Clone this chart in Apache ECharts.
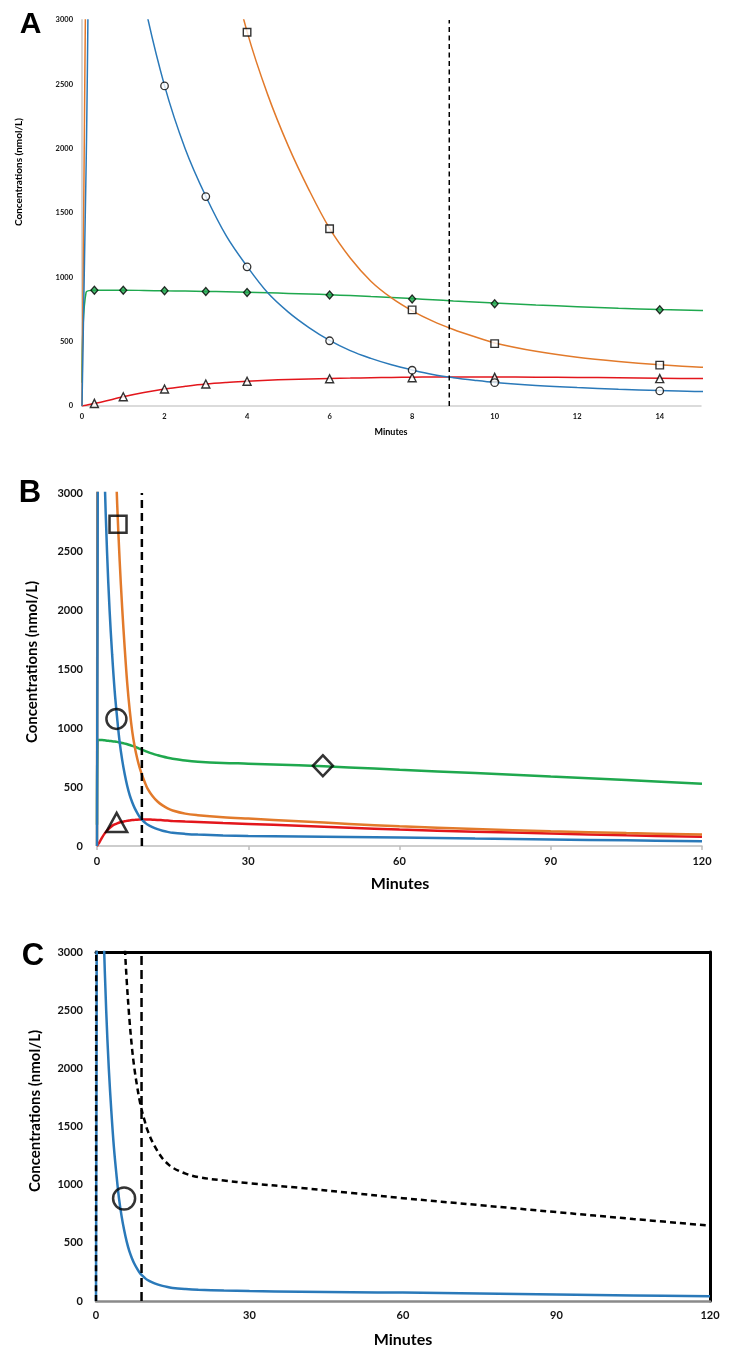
<!DOCTYPE html>
<html>
<head>
<meta charset="utf-8">
<script src="https://cdn.jsdelivr.net/npm/echarts@6/dist/echarts.min.js"></script>
<style>html,body{margin:0;padding:0;background:#fff}#main{width:741px;height:1363px}</style>
</head>
<body>
<div id="main"></div>
<script>
// ---- Data ----
const minutes = [0, 0.1, 0.3, 0.5, 1, 1.5, 2, 2.5, 3, 3.5, 4, 4.5, 5, 5.5, 6, 6.5, 7, 7.5, 8, 8.5, 9, 9.5, 10, 11, 12, 13, 14, 15, 17.5, 20, 25, 30, 40, 50, 60, 75, 90, 105, 120];
const blueConc   = [0, 1870, 5600, 5100, 4000, 3150, 2490, 2000, 1630, 1320, 1085, 880, 730, 610, 510, 430, 370, 320, 280, 245, 220, 200, 183, 160, 143, 130, 120, 112, 103, 97, 90, 85, 80, 76, 72, 64, 56, 48, 40];
const orangeConc = [0, 3700, 11000, 10500, 9000, 7600, 6300, 5200, 4300, 3550, 2910, 2420, 2020, 1680, 1380, 1150, 970, 840, 740, 660, 595, 540, 490, 425, 378, 345, 320, 302, 275, 262, 245, 233, 210, 188, 167, 145, 125, 110, 97];
const greenConc  = [180, 885, 900, 900, 900, 898, 895, 893, 890, 888, 885, 880, 875, 870, 865, 858, 851, 844, 835, 826, 817, 809, 800, 785, 772, 760, 750, 742, 727, 717, 706, 700, 686, 668, 648, 620, 590, 560, 530];
const redConc    = [0, 5, 20, 33, 72, 105, 132, 153, 171, 183, 192, 200, 206, 210, 214, 217, 220, 222, 224, 225, 226, 226, 226, 224, 222, 219, 216, 213, 208, 204, 195, 188, 172, 155, 140, 122, 106, 91, 78];
const totalConc  = [0, 6450, 17500, 16500, 13900, 11650, 9685, 8100, 6820, 5760, 4880, 4180, 3620, 3160, 2755, 2440, 2190, 2000, 1855, 1730, 1630, 1550, 1475, 1370, 1290, 1225, 1180, 1145, 1095, 1065, 1035, 1012, 972, 928, 884, 824, 764, 705, 648];

// observed points, panel A
const blueObsT   = [2, 3, 4, 6, 8, 10, 14];
const blueObs    = [2488, 1628, 1082, 507, 278, 181, 117];
const orangeObsT = [4, 6, 8, 10, 14];
const orangeObs  = [2905, 1378, 747, 485, 318];
const greenObsT  = [0.3, 1, 2, 3, 4, 6, 8, 10, 14];
const greenObs   = [900, 900, 895, 890, 882, 862, 832, 795, 748];
const redObsT    = [0.3, 1, 2, 3, 4, 6, 8, 10, 14];
const redObs     = [20, 72, 132, 171, 192, 212, 220, 222, 213];

// key markers, panels B and C
const keyB = { square: [4.17, 2734], circle: [3.85, 1080], triangle: [3.9, 200], diamond: [44.8, 682] };
const keyC = { circle: [5.49, 881] };

const cutoffMinute = 8.9;
const yMax = 3000;
const xTicksA = [0, 2, 4, 6, 8, 10, 12, 14];
const xTicksBC = [0, 30, 60, 90, 120];
const yTicks = [0, 500, 1000, 1500, 2000, 2500, 3000];

const panelLetters = ['A', 'B', 'C'];
const yTitle = 'Concentrations (nmol/L)';
const xTitle = 'Minutes';

// ---- Styling ----
const FONT = 'Lato, "Open Sans", sans-serif';
const BLUE = '#2a79b9', ORANGE = '#e27a2b', GREEN = '#1fa84e', RED = '#e3161c';

const pairs = (xs, ys) => xs.map((x, i) => [x, ys[i]]);

function curve(name, ys, color, width, idx, extra) {
  return Object.assign({
    name, type: 'line', xAxisIndex: idx, yAxisIndex: idx,
    data: pairs(minutes, ys), showSymbol: false, smooth: 0.35,
    lineStyle: { color, width }, clip: true, z: 2, silent: true
  }, extra || {});
}
function vline(idx, width, dash) {
  return { type: 'line', xAxisIndex: idx, yAxisIndex: idx, data: [[cutoffMinute, 0], [cutoffMinute, yMax]],
    showSymbol: false, lineStyle: { color: '#000', width, type: dash }, z: 3, silent: true };
}
function scat(xs, ys, symbol, size, idx, fill, bw) {
  return { type: 'scatter', xAxisIndex: idx, yAxisIndex: idx, data: pairs(xs, ys), symbol, symbolSize: size,
    itemStyle: { color: fill, borderColor: '#000', borderWidth: bw }, z: 5, silent: true };
}
function xAxisDef(grid, max, ticks, fs, margin, lineColor, lineW, showTick) {
  return { type: 'value', gridIndex: grid, min: 0, max, interval: ticks[1] - ticks[0],
    splitLine: { show: false },
    axisLine: { show: true, onZero: false, lineStyle: { color: lineColor, width: lineW } },
    axisTick: { show: showTick, length: 4, lineStyle: { color: lineColor, width: 1.5 } },
    axisLabel: { show: true, margin, fontFamily: FONT, fontWeight: 'bold', fontSize: fs, color: '#111',
      formatter: v => ticks.indexOf(v) >= 0 ? String(v) : '' } };
}
function yAxisDef(grid, fs, margin, lineColor, lineW) {
  return { type: 'value', gridIndex: grid, min: 0, max: yMax, interval: 500,
    splitLine: { show: false },
    axisLine: { show: true, onZero: false, lineStyle: { color: lineColor, width: lineW } },
    axisTick: { show: false },
    axisLabel: { margin, fontFamily: FONT, fontWeight: 'bold', fontSize: fs, color: '#111',
      formatter: v => yTicks.indexOf(v) >= 0 ? String(v) : '' } };
}
function txt(t, x, y, fs, rot, family) {
  return { type: 'text', x, y, rotation: rot || 0, silent: true,
    style: { text: t, fill: '#000', font: 'bold ' + fs + 'px ' + (family || FONT), textAlign: 'center', textVerticalAlign: 'middle' } };
}

const option = {
  animation: false,
  backgroundColor: '#fff',
  grid: [
    { left: 82, right: 40, top: 20, bottom: 957 },
    { left: 97, right: 39, top: 493, bottom: 517 },
    { left: 96, right: 31, top: 952, bottom: 62 }
  ],
  xAxis: [
    xAxisDef(0, 15, xTicksA, 7.5, 7, '#d0d0d0', 1.5, false),
    xAxisDef(1, 120, xTicksBC, 11, 10, '#bdbdbd', 1.5, true),
    xAxisDef(2, 120, xTicksBC, 11, 9, '#8a8a8a', 2.5, false),
    { type: 'value', gridIndex: 2, position: 'top', min: 0, max: 120, splitLine: { show: false },
      axisLine: { show: true, onZero: false, lineStyle: { color: '#000', width: 3 } }, axisTick: { show: false }, axisLabel: { show: false } }
  ],
  yAxis: [
    yAxisDef(0, 7.5, 9, '#d6d6d6', 2),
    yAxisDef(1, 11, 14, '#d6d6d6', 1.5),
    yAxisDef(2, 11, 13, '#d6d6d6', 1.5),
    { type: 'value', gridIndex: 2, position: 'right', min: 0, max: yMax, splitLine: { show: false },
      axisLine: { show: true, onZero: false, lineStyle: { color: '#000', width: 3 } }, axisTick: { show: false }, axisLabel: { show: false } }
  ],
  series: [
    // Panel A
    curve('green', greenConc, GREEN, 1.5, 0),
    curve('red', redConc, RED, 1.5, 0),
    curve('orange', orangeConc, ORANGE, 1.5, 0),
    curve('blue', blueConc, BLUE, 1.5, 0),
    vline(0, 1.5, [5, 3.5]),
    scat(greenObsT, greenObs, 'diamond', [7, 8], 0, GREEN, 1.3),
    scat(redObsT, redObs, 'triangle', 8, 0, '#fff', 1.4),
    scat(orangeObsT, orangeObs, 'rect', 7.5, 0, '#fff', 1.4),
    scat(blueObsT, blueObs, 'circle', 7.5, 0, '#fff', 1.3),
    // Panel B
    curve('green', greenConc, GREEN, 2.5, 1),
    curve('red', redConc, RED, 2.5, 1),
    curve('orange', orangeConc, ORANGE, 2.5, 1),
    curve('blue', blueConc, BLUE, 2.5, 1),
    vline(1, 2.5, [8, 5]),
    scat([keyB.square[0]], [keyB.square[1]], 'rect', 17, 1, 'rgba(0,0,0,0)', 2.5),
    scat([keyB.circle[0]], [keyB.circle[1]], 'circle', 20, 1, 'rgba(0,0,0,0)', 2.5),
    scat([keyB.triangle[0]], [keyB.triangle[1]], 'triangle', [21, 19], 1, 'rgba(0,0,0,0)', 2.5),
    scat([keyB.diamond[0]], [keyB.diamond[1]], 'diamond', [20, 21], 1, 'rgba(0,0,0,0)', 2.5),
    // Panel C
    curve('blue', blueConc, BLUE, 2.5, 2),
    curve('total', totalConc, '#000', 2.5, 2, { lineStyle: { color: '#000', width: 2.5, type: [6, 4] } }),
    vline(2, 2.5, [9, 5]),
    scat([keyC.circle[0]], [keyC.circle[1]], 'circle', 22, 2, 'rgba(0,0,0,0)', 2.5)
  ],
  graphic: [
    txt(panelLetters[0], 30.5, 25, 30, 0, '"Liberation Sans", Arial, sans-serif'),
    txt(panelLetters[1], 30, 493, 31, 0, '"Liberation Sans", Arial, sans-serif'),
    txt(panelLetters[2], 33, 956, 31, 0, '"Liberation Sans", Arial, sans-serif'),
    txt(yTitle, 19, 172, 10, Math.PI / 2),
    txt(yTitle, 32, 662, 15, Math.PI / 2),
    txt(yTitle, 35, 1111, 15, Math.PI / 2),
    txt(xTitle, 391, 432, 9),
    txt(xTitle, 400, 884, 16),
    txt(xTitle, 403, 1340, 16)
  ]
};

const chart = echarts.init(document.getElementById('main'));
chart.setOption(option);
</script>
</body>
</html>
